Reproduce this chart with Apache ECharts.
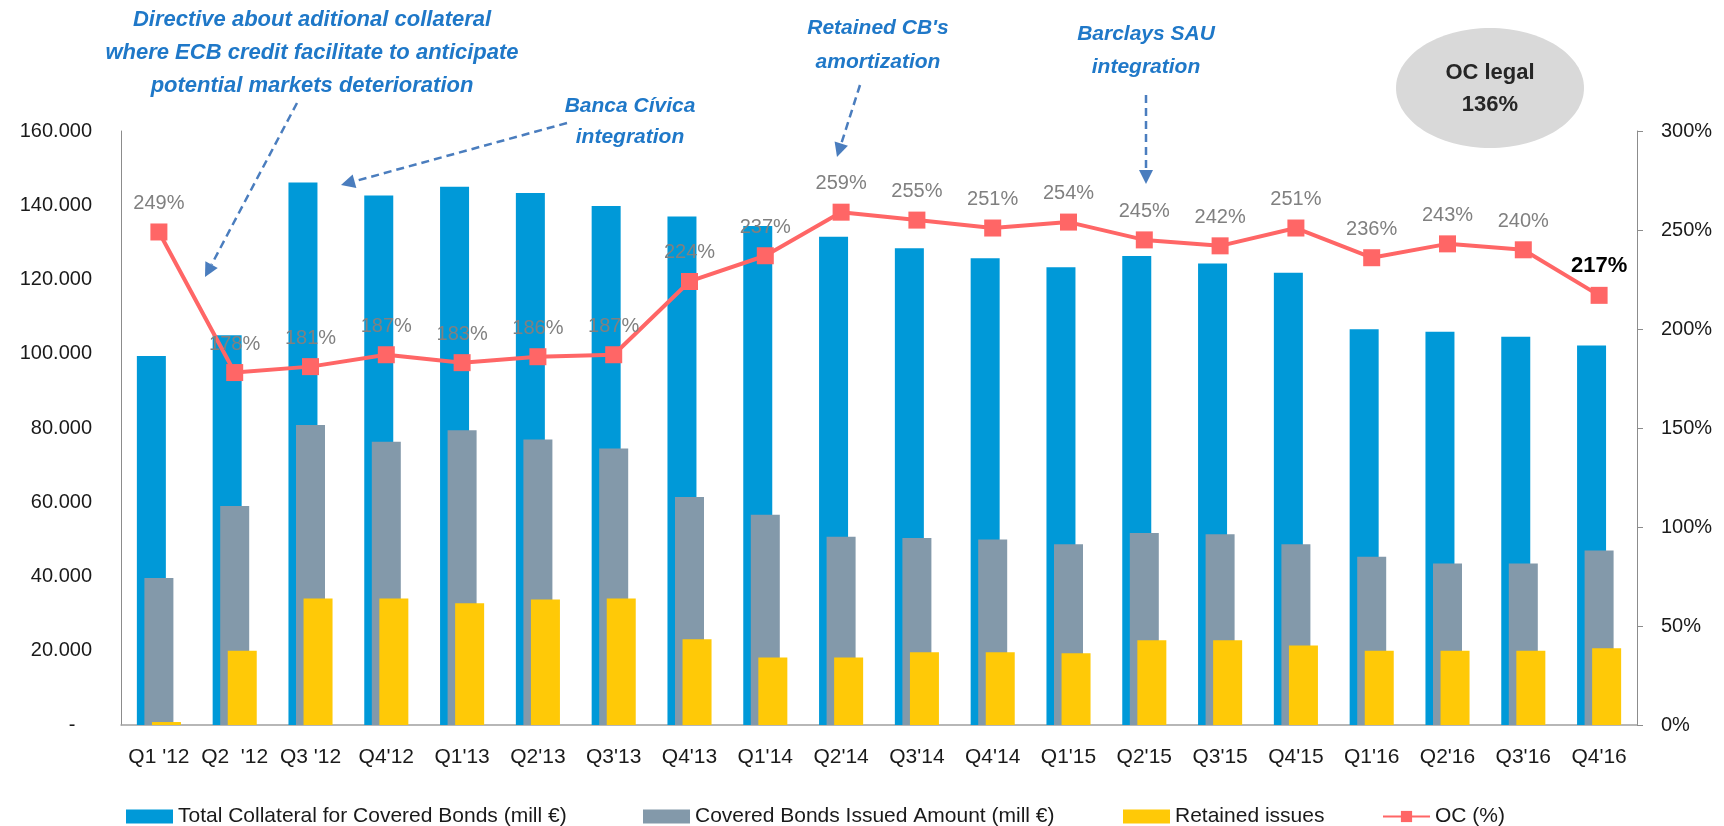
<!DOCTYPE html>
<html>
<head>
<meta charset="utf-8">
<script src="https://cdn.jsdelivr.net/npm/echarts@6/dist/echarts.min.js"></script>
<style>
html,body{margin:0;padding:0;background:#fff;}
#chart{width:1724px;height:826px;}
</style>
</head>
<body>
<div id="chart"></div>
<script>
const categories = ["Q1 '12","Q2  '12","Q3 '12","Q4'12","Q1'13","Q2'13","Q3'13","Q4'13","Q1'14","Q2'14","Q3'14","Q4'14","Q1'15","Q2'15","Q3'15","Q4'15","Q1'16","Q2'16","Q3'16","Q4'16"];
const totalCollateral = [99400,105000,146100,142600,145000,143300,139800,137000,134400,131500,128400,125700,123300,126300,124300,121800,106600,105900,104600,102200];
const coveredBondsIssued = [39600,59000,80800,76300,79400,76900,74500,61400,56600,50700,50400,50000,48700,51700,51400,48700,45300,43500,43500,47000];
const retainedIssues = [800,20000,34100,34100,32800,33800,34100,23100,18200,18200,19600,19600,19300,22800,22800,21400,20000,20000,20000,20700];
const ocPercent = [249,178,181,187,183,186,187,224,237,259,255,251,254,245,242,251,236,243,240,217];
const seriesNames = ["Total Collateral for Covered Bonds (mill €)","Covered Bonds Issued Amount (mill €)","Retained issues","OC (%)"];
const leftTicks = {min:0,max:160000,interval:20000};
const rightTicks = {min:0,max:300,interval:50};

const FONT = "'Liberation Sans', Arial, sans-serif";
const BLUE_TXT = '#1F78C8';
const ARROW = '#4A7DBE';

function fmtThousands(v){
  if (v === 0) return '-   ';
  return String(v).replace(/\B(?=(\d{3})+(?!\d))/g, '.');
}

function arrow(x1,y1,x2,y2){
  const dx=x2-x1, dy=y2-y1, len=Math.sqrt(dx*dx+dy*dy);
  const ux=dx/len, uy=dy/len;
  const hl=14, hw=7;
  const bx=x2-ux*hl, by=y2-uy*hl;
  const px=-uy, py=ux;
  return [
    {type:'line', shape:{x1:x1,y1:y1,x2:bx,y2:by}, style:{stroke:ARROW,lineWidth:2.5,lineDash:[8,5]}, silent:true},
    {type:'polygon', shape:{points:[[x2,y2],[bx+px*hw,by+py*hw],[bx-px*hw,by-py*hw]]}, style:{fill:ARROW}, silent:true}
  ];
}

function note(text,x,y,lh,size){
  return {type:'text', x:x, y:y, silent:true,
    style:{text:text, fill:BLUE_TXT, font:'italic bold '+size+'px '+FONT, align:'center', verticalAlign:'middle', lineHeight:lh}};
}

const ocData = ocPercent.map((v,i)=> i===ocPercent.length-1
  ? {value:v, label:{color:'#000', fontWeight:'bold', fontSize:22}}
  : v);

const chart = echarts.init(document.getElementById('chart'));
const legendBase = {top:801, itemWidth:47, itemHeight:14, textStyle:{fontSize:21, color:'#1a1a1a', fontFamily:FONT}, selectedMode:false};

chart.setOption({
  animation:false,
  textStyle:{fontFamily:FONT},
  grid:{left:121, right:87, top:131, bottom:101},
  legend:[
    Object.assign({left:121, data:[{name:seriesNames[0], icon:'rect'}]}, legendBase),
    Object.assign({left:638, data:[{name:seriesNames[1], icon:'rect'}]}, legendBase),
    Object.assign({left:1118, data:[{name:seriesNames[2], icon:'rect'}]}, legendBase),
    Object.assign({left:1377, data:[seriesNames[3]]}, legendBase)
  ],
  xAxis:{
    type:'category', data:categories,
    axisLine:{lineStyle:{color:'#A0A0A0', width:1.5}},
    axisTick:{show:false},
    axisLabel:{fontSize:21, color:'#1a1a1a', margin:22, interval:0}
  },
  yAxis:[
    {type:'value', min:leftTicks.min, max:leftTicks.max, interval:leftTicks.interval,
     axisLine:{show:true, lineStyle:{color:'#8C8C8C'}},
     axisTick:{show:false}, splitLine:{show:false},
     axisLabel:{fontSize:20, color:'#1a1a1a', margin:29, formatter:fmtThousands}},
    {type:'value', position:'right', min:rightTicks.min, max:rightTicks.max, interval:rightTicks.interval,
     axisLine:{show:true, lineStyle:{color:'#8C8C8C'}},
     axisTick:{show:true, length:6, lineStyle:{color:'#8C8C8C'}}, splitLine:{show:false},
     axisLabel:{fontSize:20, color:'#1a1a1a', margin:24, formatter:v=>v+'%'}}
  ],
  series:[
    {name:seriesNames[0], type:'bar', data:totalCollateral, barWidth:29, barGap:'-74%', itemStyle:{color:'#0099D8'}},
    {name:seriesNames[1], type:'bar', data:coveredBondsIssued, barWidth:29, barGap:'-74%', itemStyle:{color:'#8399AA'}},
    {name:seriesNames[2], type:'bar', data:retainedIssues, barWidth:29, barGap:'-74%', itemStyle:{color:'#FFC907'}},
    {name:seriesNames[3], type:'line', yAxisIndex:1, data:ocData, z:5,
     symbol:'rect', symbolSize:17,
     lineStyle:{color:'#FF6666', width:4}, itemStyle:{color:'#FF6666'},
     label:{show:true, position:'top', distance:10, fontSize:20, color:'#808080', formatter:p=>p.value+'%'}}
  ],
  graphic:[
    note('Directive about aditional collateral\nwhere ECB credit facilitate to anticipate\npotential markets deterioration', 312, 53, 33, 22),
    note('Banca Cívica\nintegration', 630, 122, 31, 21),
    note("Retained CB's\namortization", 878, 45, 34, 21),
    note('Barclays SAU\nintegration', 1146, 51, 33, 21),
    ...arrow(297,103,205,277),
    ...arrow(567,123,341,185),
    ...arrow(860,85,837,157),
    ...arrow(1146,95,1146,184),
    {type:'ellipse', shape:{cx:1490, cy:88, rx:94, ry:60}, style:{fill:'#D9D9D9'}, silent:true},
    {type:'text', x:1490, y:89, silent:true,
     style:{text:'OC legal\n136%', fill:'#262626', font:'bold 22px '+FONT, align:'center', verticalAlign:'middle', lineHeight:32}}
  ]
});
</script>
</body>
</html>
